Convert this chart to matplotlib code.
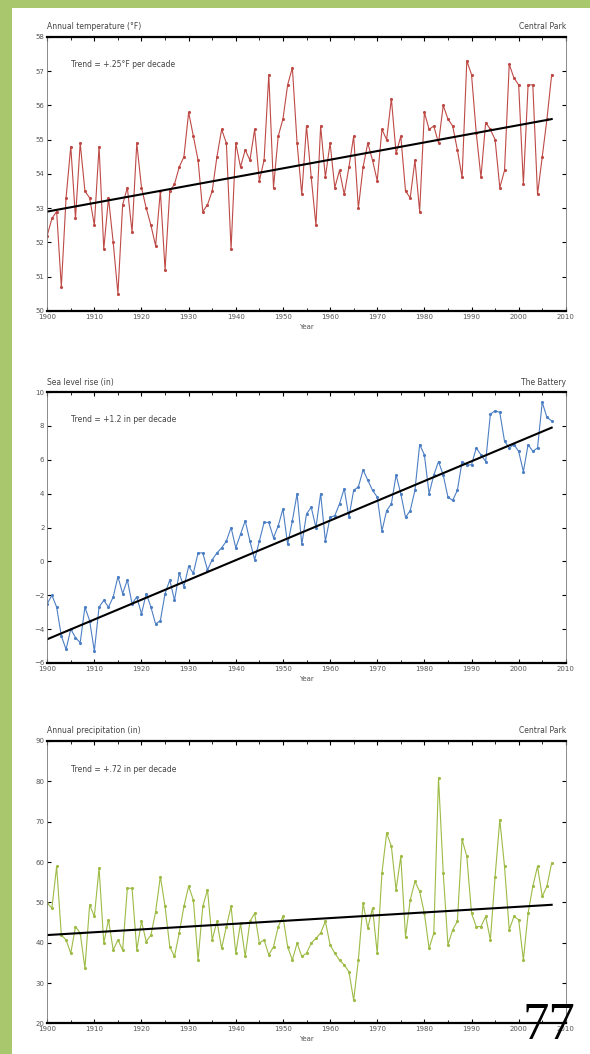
import numpy as np
import matplotlib.pyplot as plt
from matplotlib.patches import Rectangle

years = np.arange(1900, 2008)

temp = [52.2, 52.7, 52.9, 50.7, 53.3, 54.8, 52.7, 54.9, 53.5, 53.3,
        52.5, 54.8, 51.8, 53.3, 52.0, 50.5, 53.1, 53.6, 52.3, 54.9,
        53.6, 53.0, 52.5, 51.9, 53.5, 51.2, 53.5, 53.7, 54.2, 54.5,
        55.8, 55.1, 54.4, 52.9, 53.1, 53.5, 54.5, 55.3, 54.9, 51.8,
        54.9, 54.2, 54.7, 54.4, 55.3, 53.8, 54.4, 56.9, 53.6, 55.1,
        55.6, 56.6, 57.1, 54.9, 53.4, 55.4, 53.9, 52.5, 55.4, 53.9,
        54.9, 53.6, 54.1, 53.4, 54.2, 55.1, 53.0, 54.2, 54.9, 54.4,
        53.8, 55.3, 55.0, 56.2, 54.6, 55.1, 53.5, 53.3, 54.4, 52.9,
        55.8, 55.3, 55.4, 54.9, 56.0, 55.6, 55.4, 54.7, 53.9, 57.3,
        56.9, 55.2, 53.9, 55.5, 55.3, 55.0, 53.6, 54.1, 57.2, 56.8,
        56.6, 53.7, 56.6, 56.6, 53.4, 54.5, 55.6, 56.9]

sea = [-2.5, -2.0, -2.7, -4.4, -5.2, -4.0, -4.5, -4.8, -2.7, -3.5,
       -5.3, -2.7, -2.3, -2.7, -2.1, -0.9, -1.9, -1.1, -2.5, -2.1,
       -3.1, -1.9, -2.7, -3.7, -3.5, -1.9, -1.1, -2.3, -0.7, -1.5,
       -0.3, -0.7, 0.5, 0.5, -0.5, 0.1, 0.5, 0.8, 1.2, 2.0,
       0.8, 1.6, 2.4, 1.2, 0.1, 1.2, 2.3, 2.3, 1.4, 2.1,
       3.1, 1.0, 2.4, 4.0, 1.0, 2.8, 3.2, 2.0, 4.0, 1.2,
       2.6, 2.7, 3.4, 4.3, 2.6, 4.2, 4.4, 5.4, 4.8, 4.2,
       3.8, 1.8, 3.0, 3.4, 5.1, 4.0, 2.6, 3.0, 4.2, 6.9,
       6.3, 4.0, 5.1, 5.9, 5.1, 3.8, 3.6, 4.2, 5.9, 5.7,
       5.7, 6.7, 6.3, 5.9, 8.7, 8.9, 8.8, 7.1, 6.7, 6.9,
       6.5, 5.3, 6.9, 6.5, 6.7, 9.4, 8.5, 8.3]

precip = [49.8, 48.6, 58.9, 41.9, 40.7, 37.4, 44.0, 42.4, 33.7, 49.4,
          46.5, 58.5, 39.9, 45.7, 38.2, 40.7, 38.2, 53.5, 53.5, 38.2,
          45.3, 40.3, 41.9, 47.7, 56.4, 49.0, 39.0, 36.6, 42.4, 49.0,
          54.0, 50.6, 35.7, 49.0, 53.1, 40.7, 45.3, 38.6, 44.0, 49.0,
          37.4, 44.8, 36.6, 45.3, 47.3, 39.9, 40.7, 37.0, 39.0, 44.0,
          46.5, 39.0, 35.7, 39.9, 36.6, 37.4, 39.9, 41.1, 42.4, 45.3,
          39.5, 37.4, 35.7, 34.5, 32.8, 25.8, 35.7, 49.8, 43.6, 48.6,
          37.4, 57.3, 67.2, 63.9, 53.1, 61.4, 41.5, 50.6, 55.2, 52.7,
          47.3, 38.6, 42.4, 80.9, 57.3, 39.5, 43.2, 45.3, 65.6, 61.4,
          47.3, 44.0, 44.0, 46.5, 40.7, 56.4, 70.5, 58.9, 43.2, 46.5,
          45.7, 35.7, 47.3, 54.0, 58.9, 51.5, 54.0, 59.8]

# trend line end values (1900, 2007)
temp_trend = [52.9, 55.6]
sea_trend = [-4.6, 7.9]
precip_trend = [41.9, 49.4]

titles = ['Annual temperature (°F)', 'Sea level rise (in)', 'Annual precipitation (in)']
stations = ['Central Park', 'The Battery', 'Central Park']
trend_texts = ['Trend = +.25°F per decade', 'Trend = +1.2 in per decade',
               'Trend = +.72 in per decade']

fig = plt.figure(figsize=(5.9, 10.54), dpi=100)
fig.patch.set_facecolor('#a9c76c')
# white slide area, green strip left and top
fig.patches.append(Rectangle((12 / 590, 0), 1, 1 - 8 / 1054, transform=fig.transFigure,
                             facecolor='white', edgecolor='none', zorder=-5))

boxes = [[0.080, 0.705, 0.879, 0.260],
         [0.080, 0.371, 0.879, 0.257],
         [0.080, 0.029, 0.879, 0.268]]
series = [temp, sea, precip]
trends = [temp_trend, sea_trend, precip_trend]
colors = ['#be4a46', '#4d7fc4', '#9dbb45']
ylims = [(50, 58), (-6, 10), (20, 90)]
ysteps = [1, 2, 10]

for i in range(3):
    ax = fig.add_axes(boxes[i])
    ax.set_facecolor('white')
    ax.plot(years, series[i], color=colors[i], lw=0.8, marker='.', ms=2.5)
    ax.plot([years[0], years[-1]], trends[i], color='black', lw=1.5)
    ax.set_xlim(1900, 2010)
    ax.set_ylim(*ylims[i])
    ax.set_xticks(np.arange(1900, 2011, 10))
    ax.set_xticks(np.arange(1905, 2010, 10), minor=True)
    ax.set_yticks(np.arange(ylims[i][0], ylims[i][1] + 0.1, ysteps[i]))
    ax.tick_params(which='both', direction='in', top=True, right=True,
                   labelsize=5, labelcolor='#555555', pad=2)
    ax.tick_params(which='major', length=3)
    ax.tick_params(which='minor', length=2)
    for side in ['left', 'right']:
        ax.spines[side].set_linewidth(0.6)
        ax.spines[side].set_color('#777777')
    ax.spines['top'].set_linewidth(1.6)
    ax.spines['bottom'].set_linewidth(1.6)
    ax.set_xlabel('Year', fontsize=5, color='#555555', labelpad=3)
    ax.text(0.0, 1.02, titles[i], transform=ax.transAxes, fontsize=5.5,
            color='#444444', ha='left', va='bottom')
    ax.text(1.0, 1.02, stations[i], transform=ax.transAxes, fontsize=5.5,
            color='#444444', ha='right', va='bottom')
    ax.text(0.045, 0.9, trend_texts[i], transform=ax.transAxes, fontsize=5.5,
            color='#444444', ha='left', va='center')

# slide number
fig.text(0.93, 0.014, '77', fontsize=38, family='Liberation Serif',
         ha='center', va='baseline', color='black', zorder=10)

plt.savefig('out.png', dpi=100)
